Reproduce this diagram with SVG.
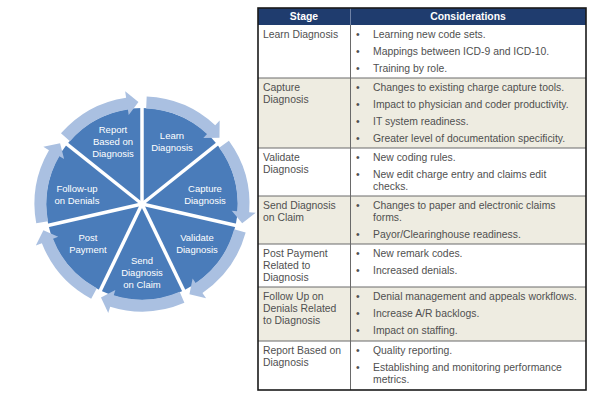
<svg xmlns="http://www.w3.org/2000/svg" xmlns:xlink="http://www.w3.org/1999/xlink" width="594" height="401" viewBox="0 0 594 401">
<style>
.wedge{fill:#4a7cba}
.arrow{fill:#aac0e1}
.spoke{stroke:#fff;stroke-width:3.5;stroke-linecap:butt}
.lbl{font-family:"Liberation Sans",Arial,sans-serif;font-size:9.5px;fill:#fff;text-anchor:middle}
.t{font-family:"Liberation Sans",Arial,sans-serif;font-size:10.4px;fill:#505050}
.h{font-family:"Liberation Sans",Arial,sans-serif;font-size:10.4px;font-weight:bold;fill:#fff;text-anchor:middle}
.rl{stroke:#6a6a6a;stroke-width:1}
.shade{fill:#eeece1}
</style>
<defs>
<path id="w" d="M0,0 L0,-96 A96,96 0 0 1 75.056,-59.855 Z"/>
<path id="a" d="M4.69,-107.4 A107.5,107.5 0 0 1 73.22,-78.71 L77.65,-83.47 L77.48,-66.34 L61.30,-65.90 L65.05,-69.92 A95.5,95.5 0 0 0 4.17,-95.41 Z"/>
</defs>
<rect width="594" height="401" fill="#fff"/>
<g id="cycle">
<g id="n-learn"><use xlink:href="#w" class="wedge" transform="translate(142 204)"/><text class="lbl" x="172" y="138.5">Learn</text><text class="lbl" x="172" y="150.5">Diagnosis</text></g>
<g id="n-capture"><use xlink:href="#w" class="wedge" transform="translate(142 204) rotate(51.4286)"/></g>
<g id="n-validate"><use xlink:href="#w" class="wedge" transform="translate(142 204) rotate(102.857)"/></g>
<g id="n-send"><use xlink:href="#w" class="wedge" transform="translate(142 204) rotate(154.286)"/></g>
<g id="n-post"><use xlink:href="#w" class="wedge" transform="translate(142 204) rotate(205.714)"/></g>
<g id="n-follow"><use xlink:href="#w" class="wedge" transform="translate(142 204) rotate(257.143)"/></g>
<g id="n-report"><use xlink:href="#w" class="wedge" transform="translate(142 204) rotate(308.571)"/></g>
<g id="spokes" transform="translate(142 204)">
<line class="spoke" x1="0" y1="0" x2="0" y2="-100"/>
<line class="spoke" x1="0" y1="0" x2="0" y2="-100" transform="rotate(51.4286)"/>
<line class="spoke" x1="0" y1="0" x2="0" y2="-100" transform="rotate(102.857)"/>
<line class="spoke" x1="0" y1="0" x2="0" y2="-100" transform="rotate(154.286)"/>
<line class="spoke" x1="0" y1="0" x2="0" y2="-100" transform="rotate(205.714)"/>
<line class="spoke" x1="0" y1="0" x2="0" y2="-100" transform="rotate(257.143)"/>
<line class="spoke" x1="0" y1="0" x2="0" y2="-100" transform="rotate(308.571)"/>
</g>
<g id="connectors" transform="translate(142 204)">
<use xlink:href="#a" class="arrow"/>
<use xlink:href="#a" class="arrow" transform="rotate(51.4286)"/>
<use xlink:href="#a" class="arrow" transform="rotate(102.857)"/>
<use xlink:href="#a" class="arrow" transform="rotate(154.286)"/>
<use xlink:href="#a" class="arrow" transform="rotate(205.714)"/>
<use xlink:href="#a" class="arrow" transform="rotate(257.143)"/>
<use xlink:href="#a" class="arrow" transform="rotate(308.571)"/>
</g>
<g id="labels">
<text class="lbl" x="205" y="191.5">Capture</text><text class="lbl" x="205" y="203.5">Diagnosis</text>
<text class="lbl" x="197" y="240.5">Validate</text><text class="lbl" x="197" y="252.5">Diagnosis</text>
<text class="lbl" x="142" y="264">Send</text><text class="lbl" x="142" y="276">Diagnosis</text><text class="lbl" x="142" y="288">on Claim</text>
<text class="lbl" x="88" y="240.5">Post</text><text class="lbl" x="88" y="252.5">Payment</text>
<text class="lbl" x="77" y="191.5">Follow-up</text><text class="lbl" x="77" y="203.5">on Denials</text>
<text class="lbl" x="113" y="132.5">Report</text><text class="lbl" x="113" y="144.5">Based on</text><text class="lbl" x="113" y="156.5">Diagnosis</text>
</g>
</g>
<g id="table">
<rect x="258" y="8" width="328" height="17" fill="#1f3c6e"/>
<rect class="shade" x="258" y="78" width="328" height="70"/>
<rect class="shade" x="258" y="196" width="328" height="48"/>
<rect class="shade" x="258" y="287" width="328" height="54"/>
<line class="rl" x1="258" y1="78" x2="586" y2="78"/>
<line class="rl" x1="258" y1="148" x2="586" y2="148"/>
<line class="rl" x1="258" y1="196" x2="586" y2="196"/>
<line class="rl" x1="258" y1="244" x2="586" y2="244"/>
<line class="rl" x1="258" y1="287" x2="586" y2="287"/>
<line class="rl" x1="258" y1="341" x2="586" y2="341"/>
<line class="rl" x1="350.5" y1="25" x2="350.5" y2="390"/>
<line x1="350.5" y1="8" x2="350.5" y2="25" stroke="#6f82a6" stroke-width="1"/>
<rect x="258" y="8" width="328" height="382" fill="none" stroke="#1a1a1a" stroke-width="1.6"/>
<text class="h" x="304" y="20">Stage</text>
<text class="h" x="468" y="20">Considerations</text>
<g id="r-learn">
<text class="t" x="263" y="38">Learn Diagnosis</text>
<text class="t" x="356" y="38">•</text><text class="t" x="373" y="38">Learning new code sets.</text>
<text class="t" x="356" y="55">•</text><text class="t" x="373" y="55">Mappings between ICD-9 and ICD-10.</text>
<text class="t" x="356" y="72">•</text><text class="t" x="373" y="72">Training by role.</text>
</g>
<g id="r-capture">
<text class="t" x="263" y="91">Capture</text><text class="t" x="263" y="103">Diagnosis</text>
<text class="t" x="356" y="91">•</text><text class="t" x="373" y="91">Changes to existing charge capture tools.</text>
<text class="t" x="356" y="108">•</text><text class="t" x="373" y="108">Impact to physician and coder productivity.</text>
<text class="t" x="356" y="125">•</text><text class="t" x="373" y="125">IT system readiness.</text>
<text class="t" x="356" y="142">•</text><text class="t" x="373" y="142">Greater level of documentation specificity.</text>
</g>
<g id="r-validate">
<text class="t" x="263" y="161">Validate</text><text class="t" x="263" y="173">Diagnosis</text>
<text class="t" x="356" y="161">•</text><text class="t" x="373" y="161">New coding rules.</text>
<text class="t" x="356" y="178">•</text><text class="t" x="373" y="178">New edit charge entry and claims edit</text>
<text class="t" x="373" y="190">checks.</text>
</g>
<g id="r-send">
<text class="t" x="263" y="209">Send Diagnosis</text><text class="t" x="263" y="221">on Claim</text>
<text class="t" x="356" y="209">•</text><text class="t" x="373" y="209">Changes to paper and electronic claims</text>
<text class="t" x="373" y="221">forms.</text>
<text class="t" x="356" y="238">•</text><text class="t" x="373" y="238">Payor/Clearinghouse readiness.</text>
</g>
<g id="r-post">
<text class="t" x="263" y="257">Post Payment</text><text class="t" x="263" y="269">Related to</text><text class="t" x="263" y="281">Diagnosis</text>
<text class="t" x="356" y="257">•</text><text class="t" x="373" y="257">New remark codes.</text>
<text class="t" x="356" y="274">•</text><text class="t" x="373" y="274">Increased denials.</text>
</g>
<g id="r-follow">
<text class="t" x="263" y="300">Follow Up on</text><text class="t" x="263" y="312">Denials Related</text><text class="t" x="263" y="324">to Diagnosis</text>
<text class="t" x="356" y="300">•</text><text class="t" x="373" y="300">Denial management and appeals workflows.</text>
<text class="t" x="356" y="317">•</text><text class="t" x="373" y="317">Increase A/R backlogs.</text>
<text class="t" x="356" y="334">•</text><text class="t" x="373" y="334">Impact on staffing.</text>
</g>
<g id="r-report">
<text class="t" x="263" y="354">Report Based on</text><text class="t" x="263" y="366">Diagnosis</text>
<text class="t" x="356" y="354">•</text><text class="t" x="373" y="354">Quality reporting.</text>
<text class="t" x="356" y="371">•</text><text class="t" x="373" y="371">Establishing and monitoring performance</text>
<text class="t" x="373" y="383">metrics.</text>
</g>
</g>
</svg>
